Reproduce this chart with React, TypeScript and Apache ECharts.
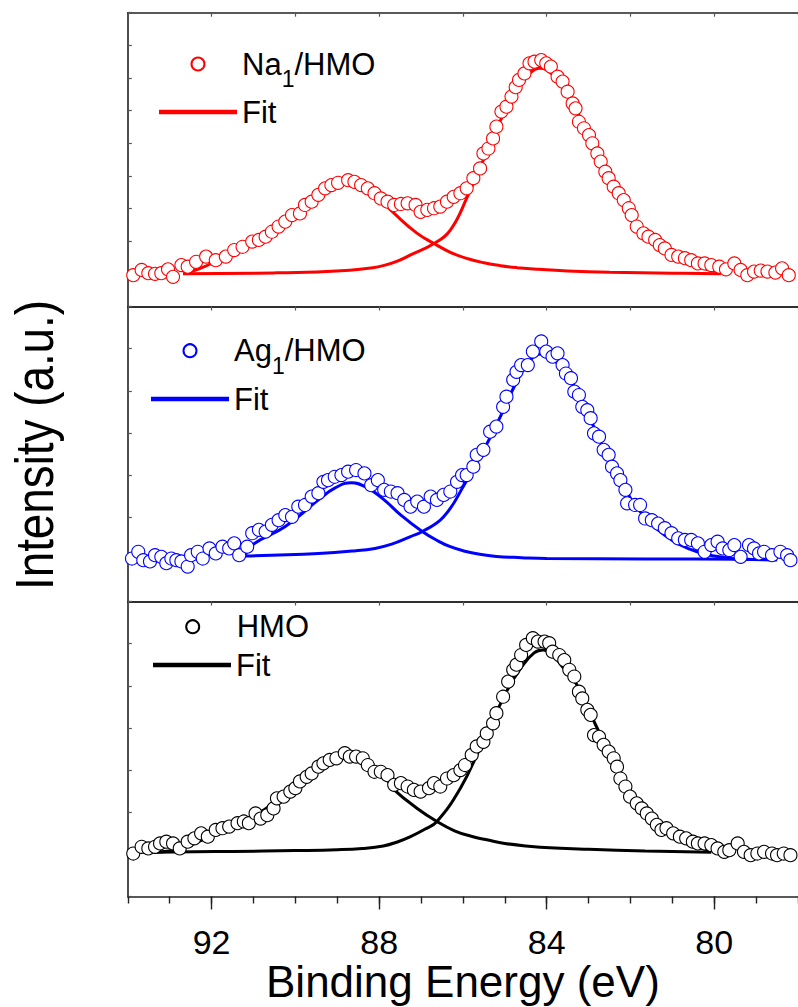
import React, { useEffect, useRef } from "react";
import * as echarts from "echarts";

const FONT = "'Liberation Sans', Arial, Helvetica, sans-serif";

// x-axis (Binding Energy, eV)
const X_MIN = 78;
const X_MAX = 94;
const MAJOR_TICKS = [80, 84, 88, 92];

// panel y-ranges (a.u.)
const Y_MAX = [9, 7, 7];

// ---------- Na1/HMO (red) ----------
const naData = [
  [93.87, 0.96], [93.67, 1.12], [93.51, 1.02], [93.35, 1.0], [93.2, 1.02], [93.04, 1.14], [92.92, 0.91],
  [92.72, 1.27], [92.57, 1.22], [92.37, 1.37], [92.13, 1.53], [91.9, 1.42], [91.66, 1.53], [91.46, 1.73],
  [91.26, 1.83], [91.03, 1.99], [90.87, 2.04], [90.71, 2.14], [90.56, 2.29], [90.4, 2.45], [90.24, 2.6],
  [90.08, 2.8], [89.89, 2.85], [89.77, 3.11], [89.61, 3.21], [89.45, 3.42], [89.29, 3.62], [89.14, 3.72],
  [88.98, 3.79], [88.74, 3.87], [88.59, 3.82], [88.43, 3.72], [88.27, 3.62], [88.11, 3.47], [87.96, 3.31],
  [87.8, 3.21], [87.64, 3.11], [87.48, 3.14], [87.32, 3.16], [87.13, 3.11], [87.01, 2.9], [86.85, 2.96],
  [86.69, 3.01], [86.54, 3.06], [86.38, 3.21], [86.22, 3.36], [86.06, 3.47], [85.91, 3.62], [85.75, 3.93],
  [85.59, 4.23], [85.51, 4.69], [85.39, 4.84], [85.28, 5.15], [85.2, 5.51], [85.08, 5.97], [84.96, 6.12],
  [84.84, 6.43], [84.74, 6.72], [84.66, 6.94], [84.53, 7.14], [84.41, 7.45], [84.29, 7.5], [84.13, 7.55],
  [84.01, 7.45], [83.9, 7.35], [83.74, 7.04], [83.62, 6.89], [83.5, 6.58], [83.38, 6.22], [83.31, 6.07],
  [83.23, 5.66], [83.11, 5.46], [82.99, 5.25], [82.91, 5.0], [82.79, 4.69], [82.71, 4.44], [82.6, 4.13],
  [82.52, 3.93], [82.4, 3.67], [82.28, 3.47], [82.16, 3.26], [82.04, 3.01], [81.97, 2.8], [81.85, 2.45],
  [81.69, 2.24], [81.57, 2.14], [81.41, 2.04], [81.3, 1.88], [81.18, 1.78], [81.02, 1.58], [80.86, 1.53],
  [80.7, 1.48], [80.55, 1.42], [80.39, 1.32], [80.23, 1.32], [80.07, 1.27], [79.88, 1.22], [79.72, 1.14],
  [79.52, 1.32], [79.37, 1.12], [79.21, 0.96], [79.05, 1.07], [78.89, 1.1], [78.73, 1.07], [78.54, 1.04],
  [78.38, 1.17], [78.22, 0.96],
];
const naFit1 = [
  [92.68, 1.0], [92.3, 1.15], [91.8, 1.45], [91.2, 1.85], [90.6, 2.3], [90.0, 2.85], [89.5, 3.35],
  [89.1, 3.65], [88.75, 3.78], [88.4, 3.65], [88.0, 3.3], [87.64, 2.85], [87.09, 2.24], [86.69, 1.93],
  [86.3, 1.66], [85.9, 1.47], [85.5, 1.34], [85.1, 1.25], [84.7, 1.19], [84.2, 1.14], [83.5, 1.09],
  [82.5, 1.05], [81.0, 1.02], [79.84, 1.0],
];
const naFit2 = [
  [92.68, 1.0], [90.5, 1.03], [89.5, 1.06], [88.7, 1.11], [88.2, 1.18], [87.88, 1.26], [87.55, 1.4],
  [87.25, 1.58], [86.69, 1.93], [86.3, 2.34], [85.9, 3.34], [85.51, 4.49], [85.08, 5.76], [84.7, 6.7],
  [84.4, 7.15], [84.15, 7.3], [83.9, 7.15], [83.6, 6.7], [83.23, 5.85], [82.9, 5.0], [82.6, 4.15],
  [82.3, 3.45], [82.0, 2.85], [81.7, 2.35], [81.4, 1.95], [81.0, 1.6], [80.6, 1.35], [80.2, 1.15],
  [79.84, 1.05],
];

// ---------- Ag1/HMO (blue) ----------
const agData = [
  [93.9, 1.02], [93.75, 1.18], [93.63, 0.98], [93.47, 0.95], [93.35, 1.1], [93.2, 1.06], [93.08, 0.91],
  [92.96, 1.02], [92.84, 0.98], [92.72, 0.95], [92.57, 0.83], [92.49, 1.1], [92.33, 1.18], [92.21, 1.02],
  [92.05, 1.26], [91.9, 1.14], [91.74, 1.3], [91.58, 1.26], [91.46, 1.38], [91.34, 1.1], [91.15, 1.3],
  [91.03, 1.62], [90.87, 1.7], [90.71, 1.66], [90.56, 1.82], [90.4, 1.93], [90.24, 2.05], [90.08, 2.01],
  [89.93, 2.25], [89.77, 2.29], [89.61, 2.49], [89.45, 2.57], [89.33, 2.84], [89.22, 2.88], [89.06, 2.96],
  [88.9, 3.0], [88.74, 3.08], [88.55, 3.12], [88.35, 3.04], [88.19, 2.76], [88.03, 2.88], [87.88, 2.65],
  [87.72, 2.61], [87.56, 2.57], [87.4, 2.41], [87.25, 2.25], [87.09, 2.37], [86.93, 2.25], [86.77, 2.49],
  [86.62, 2.41], [86.46, 2.53], [86.3, 2.61], [86.14, 2.84], [86.02, 3.0], [85.91, 3.0], [85.75, 3.2],
  [85.67, 3.48], [85.51, 3.6], [85.35, 4.03], [85.2, 4.15], [85.04, 4.62], [84.96, 4.86], [84.8, 5.26],
  [84.72, 5.45], [84.61, 5.61], [84.45, 5.61], [84.33, 5.93], [84.13, 6.17], [84.01, 5.93], [83.86, 5.81],
  [83.74, 5.89], [83.62, 5.61], [83.54, 5.41], [83.42, 5.3], [83.34, 4.98], [83.23, 4.9], [83.15, 4.62],
  [83.03, 4.54], [82.95, 4.35], [82.87, 3.99], [82.75, 3.91], [82.64, 3.6], [82.52, 3.48], [82.44, 3.2],
  [82.32, 3.04], [82.24, 2.88], [82.12, 2.65], [82.08, 2.33], [81.89, 2.29], [81.77, 2.29], [81.65, 1.97],
  [81.49, 1.93], [81.34, 1.85], [81.18, 1.74], [81.02, 1.62], [80.86, 1.5], [80.7, 1.46], [80.55, 1.46],
  [80.39, 1.38], [80.23, 1.18], [80.07, 1.34], [79.92, 1.42], [79.8, 1.26], [79.64, 1.22], [79.52, 1.34],
  [79.37, 1.06], [79.17, 1.34], [79.05, 1.26], [78.93, 1.14], [78.81, 1.18], [78.62, 1.1], [78.42, 1.18],
  [78.26, 1.1], [78.18, 0.98],
];
const agFit1 = [
  [91.19, 1.1], [91.03, 1.34], [90.24, 1.78], [89.45, 2.41], [89.06, 2.69], [88.66, 2.82], [88.27, 2.69],
  [87.88, 2.41], [87.48, 2.05], [86.97, 1.66], [86.6, 1.44], [86.3, 1.3], [85.98, 1.2], [85.6, 1.12],
  [85.2, 1.07], [84.6, 1.04], [84.0, 1.02], [81.65, 1.01], [79.29, 1.0], [78.5, 0.99],
];
const agFit2 = [
  [91.19, 1.08], [89.45, 1.14], [88.6, 1.2], [88.1, 1.26], [87.7, 1.36], [87.25, 1.54], [86.97, 1.66],
  [86.46, 2.01], [85.95, 2.8], [85.5, 3.6], [85.1, 4.4], [84.75, 5.15], [84.45, 5.65], [84.15, 5.87],
  [83.85, 5.75], [83.5, 5.35], [83.2, 4.85], [82.9, 4.2], [82.6, 3.55], [82.3, 3.0], [82.0, 2.45],
  [81.7, 2.05], [81.4, 1.75], [81.0, 1.45], [80.6, 1.25], [80.2, 1.12], [79.8, 1.05], [79.3, 1.0],
  [78.5, 0.99],
];

// ---------- HMO (black) ----------
const hmoData = [
  [93.87, 1.02], [93.67, 1.18], [93.51, 1.14], [93.35, 1.18], [93.23, 1.26], [93.08, 1.3], [92.92, 1.26],
  [92.76, 1.14], [92.57, 1.3], [92.41, 1.38], [92.25, 1.5], [92.09, 1.42], [91.9, 1.58], [91.74, 1.62],
  [91.58, 1.66], [91.38, 1.74], [91.23, 1.78], [91.11, 1.74], [90.95, 1.97], [90.83, 1.85], [90.67, 1.93],
  [90.52, 2.09], [90.44, 2.33], [90.28, 2.37], [90.12, 2.49], [90.0, 2.57], [89.89, 2.73], [89.73, 2.84],
  [89.61, 2.92], [89.45, 3.08], [89.33, 3.16], [89.18, 3.24], [89.02, 3.28], [88.82, 3.4], [88.7, 3.32],
  [88.55, 3.32], [88.39, 3.28], [88.27, 3.12], [88.11, 2.96], [87.96, 2.96], [87.8, 2.88], [87.64, 2.65],
  [87.48, 2.69], [87.32, 2.61], [87.17, 2.53], [87.01, 2.49], [86.81, 2.57], [86.69, 2.69], [86.54, 2.61],
  [86.38, 2.8], [86.22, 2.88], [86.06, 3.0], [85.95, 3.12], [85.79, 3.36], [85.67, 3.56], [85.51, 3.67],
  [85.43, 3.87], [85.28, 4.11], [85.2, 4.35], [85.04, 4.74], [84.92, 5.1], [84.8, 5.38], [84.72, 5.5],
  [84.61, 5.73], [84.49, 5.97], [84.33, 6.13], [84.21, 6.05], [84.05, 6.05], [83.94, 6.01], [83.86, 5.81],
  [83.7, 5.73], [83.58, 5.61], [83.46, 5.38], [83.34, 5.22], [83.23, 4.86], [83.15, 4.7], [83.03, 4.43],
  [82.95, 4.31], [82.87, 3.83], [82.75, 3.79], [82.64, 3.6], [82.52, 3.44], [82.4, 3.28], [82.32, 3.08],
  [82.24, 2.8], [82.12, 2.61], [82.01, 2.37], [81.85, 2.21], [81.73, 2.09], [81.61, 1.97], [81.49, 1.85],
  [81.37, 1.7], [81.26, 1.58], [81.14, 1.62], [80.98, 1.5], [80.82, 1.42], [80.67, 1.38], [80.51, 1.3],
  [80.39, 1.26], [80.23, 1.26], [80.07, 1.22], [79.92, 1.14], [79.76, 1.06], [79.64, 1.1], [79.44, 1.26],
  [79.29, 1.06], [79.13, 0.98], [78.97, 1.02], [78.81, 1.06], [78.62, 1.02], [78.5, 0.98], [78.34, 1.02],
  [78.18, 0.98],
];
const hmoFit1 = [
  [93.39, 1.05], [92.8, 1.12], [92.2, 1.35], [91.6, 1.62], [91.0, 1.9], [90.4, 2.3], [89.8, 2.78],
  [89.3, 3.15], [88.9, 3.33], [88.7, 3.35], [88.4, 3.25], [88.1, 3.0], [87.8, 2.75], [87.64, 2.53],
  [87.09, 2.09], [86.62, 1.78], [86.2, 1.56], [85.8, 1.43], [85.4, 1.34], [85.0, 1.26], [84.5, 1.2],
  [83.8, 1.15], [83.0, 1.12], [81.65, 1.08], [80.07, 1.05],
];
const hmoFit2 = [
  [93.39, 1.05], [91.5, 1.07], [90.0, 1.09], [89.0, 1.11], [88.4, 1.14], [87.9, 1.2], [87.55, 1.3],
  [87.25, 1.42], [86.9, 1.6], [86.62, 1.78], [86.06, 2.57], [85.59, 3.52], [84.96, 4.86], [84.6, 5.45],
  [84.3, 5.78], [84.09, 5.85], [83.85, 5.72], [83.6, 5.42], [83.3, 5.06], [82.83, 4.07], [82.5, 3.4],
  [82.2, 2.85], [81.9, 2.35], [81.6, 1.95], [81.2, 1.6], [80.8, 1.35], [80.4, 1.18], [80.07, 1.08],
];

const PANELS = [
  { name: "Na1/HMO", fitName: "Fit-Na", color: "#ff0000", data: naData, fits: [naFit1, naFit2] },
  { name: "Ag1/HMO", fitName: "Fit-Ag", color: "#0000ff", data: agData, fits: [agFit1, agFit2] },
  { name: "HMO", fitName: "Fit-HMO", color: "#000000", data: hmoData, fits: [hmoFit1, hmoFit2] },
];

const GRID_LEFT = 127.8;
const GRID_WIDTH = 677.3;
const GRID_TOPS = [12.7, 306.5, 601.5];
const GRID_HEIGHTS = [293.8, 295, 295];

const LEGEND_POS = [
  { left: 190.5, top: 37.3 },
  { left: 159, top: 96.5 },
  { left: 182.5, top: 324 },
  { left: 151, top: 383.5 },
  { left: 185.2, top: 611.2 },
  { left: 153, top: 649.5 },
];

const AXIS_COLOR = "#222";

function buildOption() {
  const grid = GRID_TOPS.map((top, i) => ({
    left: GRID_LEFT,
    width: GRID_WIDTH,
    top,
    height: GRID_HEIGHTS[i],
    containLabel: false,
  }));

  const xAxis: any[] = [];
  const yAxis: any[] = [];
  GRID_TOPS.forEach((_, i) => {
    const isLast = i === GRID_TOPS.length - 1;
    xAxis.push({
      type: "value",
      gridIndex: i,
      position: "bottom",
      min: X_MIN,
      max: X_MAX,
      interval: 1,
      inverse: true,
      axisLine: { show: true, onZero: false, lineStyle: { color: AXIS_COLOR, width: 1.6 } },
      axisTick: { show: isLast, inside: false, length: 7, lineStyle: { color: AXIS_COLOR, width: 1.4 } },
      axisLabel: { show: false },
      splitLine: { show: false },
    });
    xAxis.push({
      type: "value",
      gridIndex: i,
      position: "top",
      min: X_MIN,
      max: X_MAX,
      interval: 2,
      inverse: true,
      axisLine: { show: true, onZero: false, lineStyle: { color: AXIS_COLOR, width: 1.6 } },
      axisTick: { show: true, inside: true, length: 4, lineStyle: { color: "#555", width: 1.2 } },
      axisLabel: { show: false },
      splitLine: { show: false },
    });
    yAxis.push({
      type: "value",
      gridIndex: i,
      min: 0,
      max: Y_MAX[i],
      interval: 1,
      axisLine: { show: true, onZero: false, lineStyle: { color: AXIS_COLOR, width: 1.6 } },
      axisTick: { show: true, inside: true, length: 4, lineStyle: { color: "#555", width: 1.2 } },
      axisLabel: { show: false },
      splitLine: { show: false },
    });
  });
  xAxis.push({
    type: "value",
    gridIndex: 2,
    position: "bottom",
    min: X_MIN,
    max: X_MAX,
    inverse: true,
    axisLine: { show: false },
    axisTick: { show: true, inside: false, length: 13, customValues: MAJOR_TICKS, lineStyle: { color: AXIS_COLOR, width: 1.4 } },
    axisLabel: {
      show: true,
      customValues: MAJOR_TICKS,
      margin: 28,
      fontSize: 34,
      fontFamily: FONT,
      color: "#000",
    },
    splitLine: { show: false },
    name: "Binding Energy (eV)",
    nameLocation: "middle",
    nameGap: 58,
    nameTextStyle: { fontSize: 44, fontFamily: FONT, color: "#000" },
  });

  const series: any[] = [];
  PANELS.forEach((p, i) => {
    p.fits.forEach((f) => {
      series.push({
        type: "line",
        name: p.fitName,
        xAxisIndex: 2 * i,
        yAxisIndex: i,
        data: f,
        smooth: 0.45,
        showSymbol: false,
        symbol: "none",
        lineStyle: { color: p.color, width: 3 },
        itemStyle: { color: p.color },
        z: 2,
      });
    });
    series.push({
      type: "scatter",
      name: p.name,
      xAxisIndex: 2 * i,
      yAxisIndex: i,
      data: p.data,
      symbol: "circle",
      symbolSize: 13,
      itemStyle: { color: "#ffffff", borderColor: p.color, borderWidth: 1.1, opacity: 1 },
      z: 3,
    });
  });

  const legendNames = PANELS.flatMap((p) => [p.name, p.fitName]);
  const legend = legendNames.map((n, k) => {
    const isFit = n.startsWith("Fit");
    return {
      data: [n],
      orient: "vertical",
      left: LEGEND_POS[k].left,
      top: LEGEND_POS[k].top,
      padding: 0,
      itemWidth: 78,
      itemHeight: isFit ? 4.5 : 13,
      icon: isFit ? "rect" : undefined,
      selectedMode: false,
      formatter: (name: string) => {
        if (name === "Na1/HMO") return "{m|Na}{s|1}{m|/HMO}";
        if (name === "Ag1/HMO") return "{m|Ag}{s|1}{m|/HMO}";
        if (name.startsWith("Fit")) return "Fit";
        return name;
      },
      textStyle: {
        fontSize: 31,
        lineHeight: 31,
        fontFamily: FONT,
        color: "#000",
        rich: {
          m: { fontSize: 31, lineHeight: 31, fontFamily: FONT, color: "#000" },
          s: { fontSize: 23, lineHeight: 23, padding: [30.4, 0, 0, 0], fontFamily: FONT, color: "#000" },
        },
      },
    };
  });

  return {
    animation: false,
    backgroundColor: "#ffffff",
    grid,
    xAxis,
    yAxis,
    series,
    legend,
    graphic: [
      {
        type: "text",
        x: 34,
        y: 445,
        rotation: Math.PI / 2,
        scaleX: 0.864,
        style: {
          text: "Intensity (a.u.)",
          fontSize: 53,
          fontFamily: FONT,
          fill: "#000",
          align: "center",
          verticalAlign: "middle",
        },
      },
    ],
  };
}

export default function App() {
  const ref = useRef<HTMLDivElement>(null);
  useEffect(() => {
    document.body.style.margin = "0";
    if (!ref.current) return;
    const chart = echarts.init(ref.current, undefined, { renderer: "svg" });
    chart.setOption(buildOption() as any);
    return () => chart.dispose();
  }, []);
  return <div ref={ref} style={{ width: 798, height: 1007, overflow: "hidden" }} />;
}
